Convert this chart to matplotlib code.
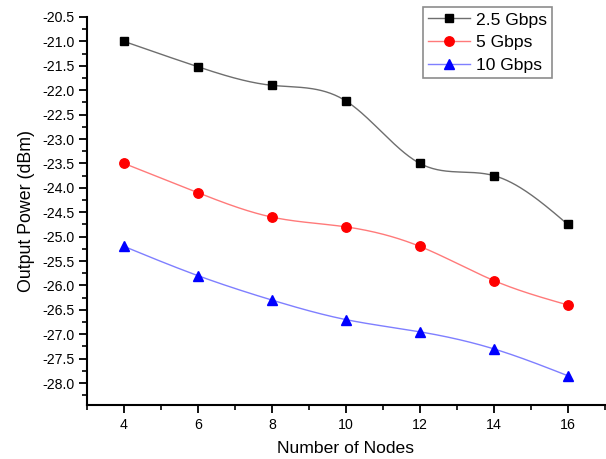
import numpy as np
import matplotlib
matplotlib.use("Agg")
import matplotlib.pyplot as plt
from matplotlib.ticker import MultipleLocator, FormatStrFormatter

nodes = [4, 6, 8, 10, 12, 14, 16]
p_2_5 = [-21.0, -21.52, -21.9, -22.22, -23.5, -23.75, -24.75]
p_5 = [-23.5, -24.1, -24.6, -24.8, -25.2, -25.9, -26.4]
p_10 = [-25.2, -25.8, -26.3, -26.7, -26.95, -27.3, -27.85]
labels = ["2.5 Gbps", "5 Gbps", "10 Gbps"]


def natural_spline(x, y, n=300):
    x = np.asarray(x, float)
    y = np.asarray(y, float)
    k = len(x)
    h = np.diff(x)
    A = np.zeros((k, k))
    b = np.zeros(k)
    A[0, 0] = 1
    A[-1, -1] = 1
    for i in range(1, k - 1):
        A[i, i - 1] = h[i - 1]
        A[i, i] = 2 * (h[i - 1] + h[i])
        A[i, i + 1] = h[i]
        b[i] = 6 * ((y[i + 1] - y[i]) / h[i] - (y[i] - y[i - 1]) / h[i - 1])
    M = np.linalg.solve(A, b)
    xs = np.linspace(x[0], x[-1], n)
    ys = np.empty_like(xs)
    for j, xv in enumerate(xs):
        i = min(np.searchsorted(x, xv, side="right") - 1, k - 2)
        t1 = x[i + 1] - xv
        t0 = xv - x[i]
        hi = h[i]
        ys[j] = (M[i] * t1 ** 3 / (6 * hi) + M[i + 1] * t0 ** 3 / (6 * hi)
                 + (y[i] / hi - M[i] * hi / 6) * t1
                 + (y[i + 1] / hi - M[i + 1] * hi / 6) * t0)
    return xs, ys


plt.rcParams['font.family'] = ['Liberation Sans', 'DejaVu Sans']

fig = plt.figure(figsize=(6.06, 4.59), dpi=100)
ax = fig.add_axes([0.1436, 0.1176, 0.8544, 0.8454])

series = [
    (p_2_5, '#6e6e6e', 'black', 's', 6.2),
    (p_5, '#ff7a7a', 'red', 'o', 6.8),
    (p_10, '#7f7fff', 'blue', '^', 7.2),
]
handles = []
for (vals, lc, mc, mk, ms), lab in zip(series, labels):
    xs, ys = natural_spline(nodes, vals)
    ax.plot(xs, ys, color=lc, lw=1.0, zorder=2)
    ax.plot(nodes, vals, linestyle='none', marker=mk, ms=ms, color=mc, zorder=3)
    h, = ax.plot([], [], color=lc, lw=1.0, marker=mk, ms=ms, mfc=mc, mec=mc, label=lab)
    handles.append(h)

ax.set_xlim(3, 17)
ax.set_ylim(-28.45, -20.5)
ax.xaxis.set_major_locator(MultipleLocator(2))
ax.xaxis.set_minor_locator(MultipleLocator(1))
ax.yaxis.set_major_locator(MultipleLocator(0.5))
ax.yaxis.set_minor_locator(MultipleLocator(0.25))
ax.yaxis.set_major_formatter(FormatStrFormatter('%.1f'))
ax.set_xticks([4, 6, 8, 10, 12, 14, 16])

for s in ['top', 'right']:
    ax.spines[s].set_visible(False)
for s in ['left', 'bottom']:
    ax.spines[s].set_linewidth(1.5)
ax.tick_params(which='major', direction='out', length=6, width=1.3, labelsize=10.2, pad=3)
ax.tick_params(which='minor', direction='out', length=3.5, width=1.2)

ax.set_xlabel('Number of Nodes', fontsize=12.6, labelpad=7)
ax.set_ylabel('Output Power (dBm)', fontsize=12.8, labelpad=5)

leg = fig.legend(handles=handles, loc='upper left', bbox_to_anchor=(423 / 606, 1 - 7 / 459),
                 fontsize=12.6, frameon=True, fancybox=False, edgecolor='#707070',
                 handlelength=2.4, handletextpad=0.3, borderpad=0.3, labelspacing=0.42,
                 borderaxespad=0)
leg.get_frame().set_linewidth(1.2)

fig.savefig('out.png', dpi=100)
